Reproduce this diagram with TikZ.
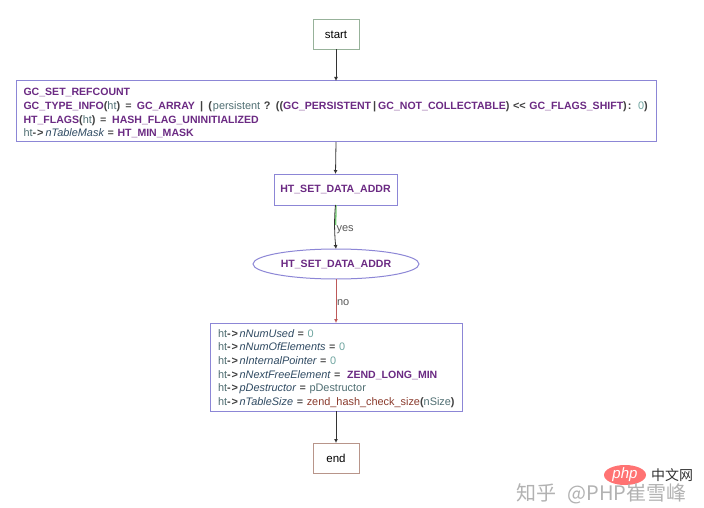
\documentclass[tikz,border=0pt]{standalone}
\usepackage{fontspec}
\setmainfont{Liberation Sans}
\newfontfamily\cjkfont{Noto Sans CJK SC}
\usetikzlibrary{shapes.geometric,arrows.meta}
\definecolor{macro}{HTML}{6B2A83}
\definecolor{vargray}{HTML}{4F6E72}
\definecolor{numteal}{HTML}{6FA5A0}
\definecolor{fieldblue}{HTML}{2F4A62}
\definecolor{funcred}{HTML}{8A3A2C}
\definecolor{boxblue}{HTML}{8C86D6}
\definecolor{startgreen}{HTML}{97B29A}
\definecolor{endred}{HTML}{B8958A}
\newcommand{\mac}[1]{{\fontsize{10.55}{13.6}\selectfont\textbf{\textcolor{macro}{#1}}}}
\newcommand{\vr}[1]{\textcolor{vargray}{#1}}
\newcommand{\num}[1]{\textcolor{numteal}{#1}}
\newcommand{\fld}[1]{\textit{\textcolor{fieldblue}{#1}}}
\newcommand{\op}[1]{\textbf{\textcolor{black!75}{#1}}}
\newcommand{\fn}[1]{\textcolor{funcred}{#1}}
\newcommand{\topfix}{\rule{0pt}{11pt}}
\newcommand{\arw}{\op{-\kern1pt>}\kern1.5pt{}}
\tikzset{
  x=1pt,y=-1pt,
  txt/.style={font=\fontsize{10.9}{13.6}\selectfont,inner sep=0pt,outer sep=0pt},
  procbox/.style={draw=boxblue,line width=1pt,fill=white,txt},
  termstart/.style={draw=startgreen,line width=1pt,fill=white,txt,font=\fontsize{11.5}{13.6}\selectfont,minimum width=46pt,minimum height=30pt},
  termend/.style={draw=endred,line width=1pt,fill=white,txt,font=\fontsize{11.5}{13.6}\selectfont,minimum width=46pt,minimum height=30pt},
  cond/.style={ellipse,draw=boxblue,line width=1pt,fill=white,txt,minimum width=166pt,minimum height=30pt},
  flow/.style={draw=black!80,line width=0.8pt,-{Latex[length=4pt,width=4pt]}},
  edgelabel/.style={txt,text=black!65,anchor=west,font=\fontsize{11}{13.6}\selectfont}
}
\begin{document}
\begin{tikzpicture}
\useasboundingbox (0,0) rectangle (704,508);
\fill[white] (0,0) rectangle (704,508);
\node[termstart] (start) at (336,34.5) {start};
\node[procbox,minimum width=640pt,minimum height=61pt,text width=625pt,align=left] (init) at (336,111.5) {\topfix\mac{GC\_SET\_REFCOUNT}\\
\mac{GC\_TYPE\_INFO}\op{(}\vr{ht}\op{)}\kern1.5pt{} = \kern1.5pt{}\mac{GC\_ARRAY} \kern1.5pt{}\op{|} \kern1.5pt{}\op{(}\kern1pt{}\vr{persistent} \op{? ((}\mac{GC\_PERSISTENT}\kern2pt{}\op{|}\kern2pt{}\mac{GC\_NOT\_COLLECTABLE}\op{) <\kern0pt< }\mac{GC\_FLAGS\_SHIFT}\op{)}\kern1pt{}\op{:} \kern3pt{}\num{0}\op{)}\\
\mac{HT\_FLAGS}\op{(}\vr{ht}\op{)}\kern1pt{} = \kern2pt{}\mac{HASH\_FLAG\_UNINITIALIZED}\\
\vr{ht}\op{-\kern1pt>}\kern2pt{}\fld{nTableMask} = \mac{HT\_MIN\_MASK}};
\node[procbox,minimum width=252pt,minimum height=88pt,text width=236pt,align=left] (fields) at (336,367) {\topfix\vr{ht}\arw\fld{nNumUsed} = \num{0}\\
\vr{ht}\arw\fld{nNumOfElements} = \num{0}\\
\vr{ht}\arw\fld{nInternalPointer} = \num{0}\\
\vr{ht}\arw\fld{nNextFreeElement} = \kern3pt{}\mac{ZEND\_LONG\_MIN}\\
\vr{ht}\arw\fld{pDestructor} = \vr{pDestructor}\\
\mbox{\vr{ht}\arw\fld{nTableSize} = \fn{zend\_hash\_check\_size}\op{(}\vr{nSize}\op{)}}};
\node[procbox,minimum width=123pt,minimum height=31pt] (addr) at (335.5,189.5) {\mac{HT\_SET\_DATA\_ADDR}};
\node[cond] (check) at (336,264) {\mac{HT\_SET\_DATA\_ADDR}};
\node[termend] (end) at (336,458) {end};
\draw[flow] (start.south) -- (init.north);
\draw[flow] (init.south) -- (addr.north);
\draw[green!65!black!55,line width=1.3pt] (addr.south) ++(0.6,0) .. controls +(0,6) and +(0,-6) .. ++(-0.4,20);
\draw[flow] (addr.south) .. controls +(-1.5,14) and +(-1.5,-14) .. node[edgelabel,pos=0.5,xshift=2pt,yshift=-3pt] (yes) {yes} (check.north);
\draw[flow,draw=red!60!black!65] (check.south) -- node[edgelabel,xshift=1pt,yshift=-2pt] (no) {no} (fields.north);
\draw[flow] (fields.south) -- (end.north);
\node[ellipse,fill=red!55!white,minimum width=42pt,minimum height=20pt,inner sep=0pt] (logo) at (625,475) {\textit{\textcolor{white}{\fontsize{15}{15}\selectfont php}}};
\node[anchor=west,inner sep=0pt,text=black!80] (cn) at (651,475) {\cjkfont\fontsize{14}{14}\selectfont 中文网};
\node[anchor=west,inner sep=0pt,text=black!30] (mark) at (516,494) {\cjkfont\fontsize{20}{20}\selectfont 知乎\kern7pt{} @PHP崔雪峰};
\end{tikzpicture}
\end{document}
